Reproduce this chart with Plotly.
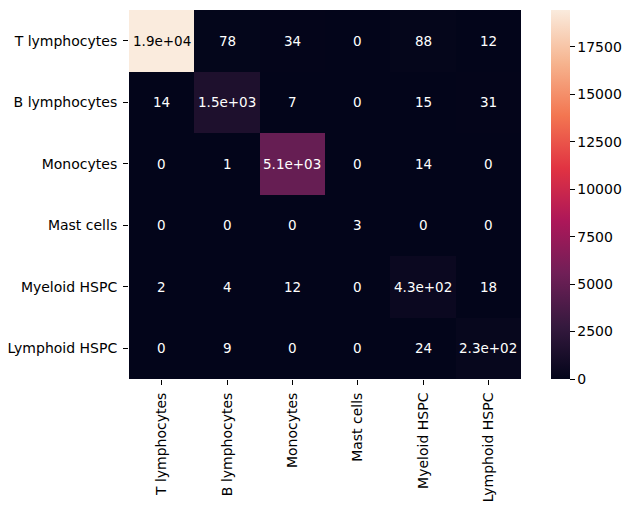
import plotly.graph_objs as go

cell_types = ["T lymphocytes", "B lymphocytes", "Monocytes",
              "Mast cells", "Myeloid HSPC", "Lymphoid HSPC"]

# confusion counts, rows = true label, cols = predicted label
row_t = [19450, 78, 34, 0, 88, 12]
row_b = [14, 1500, 7, 0, 15, 31]
row_mono = [0, 1, 5100, 0, 14, 0]
row_mast = [0, 0, 0, 3, 0, 0]
row_myeloid = [2, 4, 12, 0, 430, 18]
row_lymphoid = [0, 9, 0, 0, 24, 230]

counts = [row_t, row_b, row_mono, row_mast, row_myeloid, row_lymphoid]

cbar_ticks = [0, 2500, 5000, 7500, 10000, 12500, 15000, 17500]

# seaborn "rocket" approximated
rocket = [
    [0.0, "#03051a"],
    [1/7, "#35193e"],
    [2/7, "#701f57"],
    [3/7, "#ad1759"],
    [4/7, "#e13342"],
    [5/7, "#f37651"],
    [6/7, "#f6b48f"],
    [1.0, "#faebdd"],
]

zmax = max(max(r) for r in counts)

# page body adds an 8px offset, so margins are trimmed by that much
left, right, top, bottom = 121, 513, 2, 371
W, H = 632, 508

fig = go.Figure()
fig.add_trace(go.Heatmap(
    z=counts, x=cell_types, y=cell_types,
    colorscale=rocket, zmin=0, zmax=zmax,
    hoverongaps=False,
    colorbar=dict(
        thickness=19, len=1, lenmode="fraction", y=0.5, yanchor="middle",
        x=(543 - left) / (right - left), xanchor="left", xpad=0, ypad=0,
        outlinewidth=0, tickvals=cbar_ticks, ticktext=[str(t) for t in cbar_ticks],
        ticks="outside", ticklen=5,
        tickcolor="black", tickfont=dict(size=14, color="black"),
    ),
))

for i, row in enumerate(counts):
    for j, v in enumerate(row):
        # light cells get dark text, like seaborn
        color = "black" if v / zmax > 0.6 else "white"
        fig.add_annotation(x=cell_types[j], y=cell_types[i], text=f"{v:.2g}",
                           showarrow=False, font=dict(size=13.5, color=color))

fig.update_xaxes(tickangle=-90, ticks="outside", ticklen=5, tickcolor="black",
                 ticklabelstandoff=2,
                 showgrid=False, zeroline=False, tickfont=dict(size=14, color="black"))
fig.update_yaxes(autorange="reversed", ticks="outside", ticklen=5, tickcolor="black",
                 ticklabelstandoff=3,
                 showgrid=False, zeroline=False, tickfont=dict(size=14, color="black"))

fig.update_layout(
    width=W, height=H,
    margin=dict(l=left, r=W - right, t=top, b=H - bottom, autoexpand=False),
    paper_bgcolor="white", plot_bgcolor="white",
    font=dict(family="DejaVu Sans", color="black"),
)

fig.write_html("out.html")
